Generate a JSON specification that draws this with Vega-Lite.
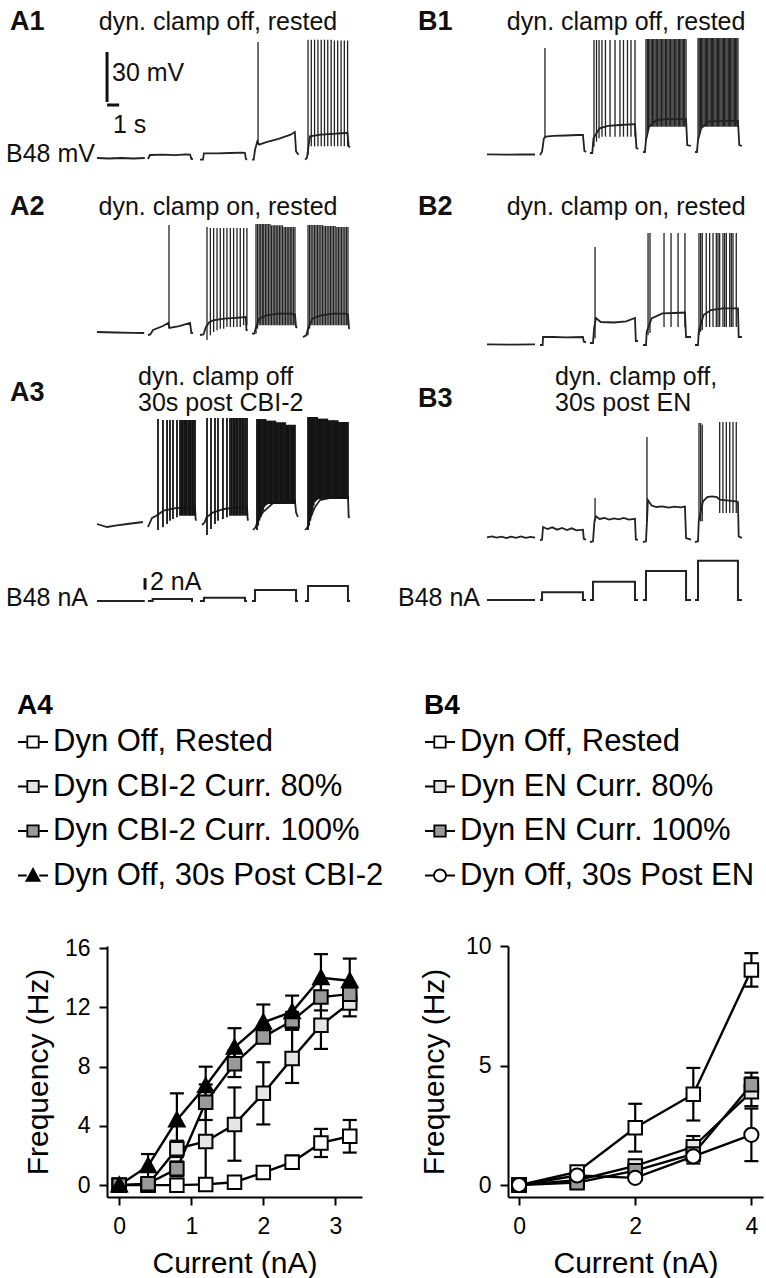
{
"$schema":"https://vega.github.io/schema/vega-lite/v6.json",
"padding":0,
"background":"white",
"columns":2,
"spacing":0,
"bounds":"flush",
"config":{
 "view":{"stroke":null},
 "font":"Liberation Sans",
 "axis":{"grid":false,"domainColor":"black","domainWidth":2,"tickColor":"black","tickWidth":2,"tickSize":8,"labelFontSize":23,"labelColor":"black","titleFontSize":30,"titleFontWeight":"normal","titleColor":"black","labelFlush":false},
 "legend":{"orient":"none","direction":"vertical","titleFontSize":28,"titleFontWeight":"bold","titleColor":"black","titlePadding":6,"labelFontSize":31,"labelColor":"black","labelLimit":600,"labelOffset":4,"rowPadding":13.5,"symbolSize":900,"symbolStrokeWidth":1.8,"symbolStrokeColor":"black","symbolOpacity":1,"padding":0}
},
"resolve":{"scale":{"x":"independent","y":"independent","fill":"independent","shape":"independent","stroke":"independent"},"legend":{"fill":"independent","shape":"independent","stroke":"independent"}},
"datasets":{
 "labels":[
  {"p":"A1","k":"b","t":-7.19,"v":21.6,"txt":"A1"},
  {"p":"A1","k":"c","t":10.0,"v":21.6,"txt":"dyn. clamp off, rested"},
  {"p":"A1","k":"l","t":1.24,"v":-9.0,"txt":"30 mV"},
  {"p":"A1","k":"l","t":1.32,"v":-40.2,"txt":"1 s"},
  {"p":"A1","k":"r","t":-0.17,"v":-57.3,"txt":"B48 mV"},
  {"p":"B1","k":"b","t":-5.7,"v":19.8,"txt":"B1"},
  {"p":"B1","k":"c","t":11.5,"v":19.8,"txt":"dyn. clamp off, rested"},
  {"p":"A2","k":"b","t":-7.19,"v":15.0,"txt":"A2"},
  {"p":"A2","k":"c","t":10.0,"v":15.0,"txt":"dyn. clamp on, rested"},
  {"p":"B2","k":"b","t":-5.7,"v":22.8,"txt":"B2"},
  {"p":"B2","k":"c","t":11.5,"v":22.8,"txt":"dyn. clamp on, rested"},
  {"p":"A3","k":"b","t":-7.19,"v":18.6,"txt":"A3"},
  {"p":"A3","k":"l","t":3.39,"v":28.2,"txt":"dyn. clamp off"},
  {"p":"A3","k":"l","t":3.39,"v":12.6,"txt":"30s post CBI-2"},
  {"p":"B3","k":"b","t":-5.7,"v":23.4,"txt":"B3"},
  {"p":"B3","k":"l","t":5.62,"v":36.6,"txt":"dyn. clamp off,"},
  {"p":"B3","k":"l","t":5.62,"v":21.0,"txt":"30s post EN"},
  {"p":"AC","k":"r","t":-0.74,"v":0.5,"txt":"B48 nA"},
  {"p":"AC","k":"l","t":4.38,"v":3.28,"txt":"2 nA"},
  {"p":"BC","k":"r","t":-0.58,"v":0.2,"txt":"B48 nA"}
 ],
 "bars":[
  {"p":"A1","t":0.83,"t2":0.83,"v":-26.4,"v2":3.6},
  {"p":"A1","t":0.83,"t2":1.83,"v":-28.2,"v2":-28.2},
  {"p":"AC","t":3.97,"t2":3.97,"v":1.95,"v2":3.95}
 ],
 "A1v":[
  {"s":1,"t":0,"v":-60},{"s":1,"t":1,"v":-60.3},{"s":1,"t":2,"v":-60},{"s":1,"t":3,"v":-60.3},{"s":1,"t":3.95,"v":-60},
  {"s":2,"t":4.21,"v":-60.6},{"s":2,"t":4.38,"v":-58.2},{"s":2,"t":5.5,"v":-58},{"s":2,"t":6.5,"v":-58.3},{"s":2,"t":7.3,"v":-57.8},{"s":2,"t":7.69,"v":-58},{"s":2,"t":7.8,"v":-60.5},{"s":2,"t":7.93,"v":-60.6},
  {"s":3,"t":8.51,"v":-61},{"s":3,"t":8.75,"v":-61},{"s":3,"t":8.84,"v":-57.2},{"s":3,"t":10,"v":-57.2},{"s":3,"t":11,"v":-57},{"s":3,"t":12,"v":-56.8},{"s":3,"t":12.23,"v":-57},{"s":3,"t":12.3,"v":-60.5},{"s":3,"t":12.4,"v":-61},
  {"s":4,"t":12.81,"v":-61},{"s":4,"t":12.95,"v":-61},{"s":4,"t":13.06,"v":-55},{"s":4,"t":13.25,"v":-50},{"s":4,"t":13.4,"v":-52},{"s":4,"t":14,"v":-50.5},{"s":4,"t":15,"v":-48.5},{"s":4,"t":16,"v":-46},{"s":4,"t":16.35,"v":-44.4},{"s":4,"t":16.45,"v":-56},{"s":4,"t":16.65,"v":-58},
  {"s":5,"t":17.19,"v":-61},{"s":5,"t":17.35,"v":-60},{"s":5,"t":17.44,"v":-55},{"s":5,"t":17.6,"v":-47},{"s":5,"t":18.5,"v":-46},{"s":5,"t":19.5,"v":-45.5},{"s":5,"t":20.5,"v":-45},{"s":5,"t":20.7,"v":-45},{"s":5,"t":20.8,"v":-53},{"s":5,"t":20.91,"v":-53.5}
 ],
 "A1s":[
  {"t":13.31,"v":-52,"v2":9.6},
  {"t":17.44,"v":-58,"v2":11},{"t":17.71,"v":-53,"v2":11},{"t":17.98,"v":-53,"v2":11},{"t":18.26,"v":-53,"v2":11},{"t":18.53,"v":-53,"v2":11},{"t":18.8,"v":-53,"v2":11},{"t":19.07,"v":-53,"v2":11},{"t":19.35,"v":-53,"v2":11},{"t":19.62,"v":-53,"v2":10.5},{"t":19.89,"v":-53,"v2":10.5},{"t":20.17,"v":-53,"v2":10.5},{"t":20.44,"v":-53,"v2":10.5},{"t":20.71,"v":-53,"v2":10.5}
 ],
 "A2v":[
  {"s":1,"t":0,"v":-60},{"s":1,"t":1.5,"v":-60.3},{"s":1,"t":3,"v":-60.5},{"s":1,"t":3.9,"v":-60.6},
  {"s":2,"t":4.21,"v":-61.8},{"s":2,"t":4.4,"v":-61.5},{"s":2,"t":4.63,"v":-58.8},{"s":2,"t":5.45,"v":-56.4},{"s":2,"t":5.9,"v":-54.5},{"s":2,"t":5.98,"v":-57.6},{"s":2,"t":6.8,"v":-56.5},{"s":2,"t":7.69,"v":-54.6},{"s":2,"t":7.8,"v":-60.6},{"s":2,"t":7.93,"v":-60.6},
  {"s":3,"t":8.51,"v":-61.8},{"s":3,"t":8.8,"v":-61.5},{"s":3,"t":9.0,"v":-57},{"s":3,"t":9.3,"v":-54},{"s":3,"t":9.6,"v":-53},{"s":3,"t":10.5,"v":-52},{"s":3,"t":11.5,"v":-51.5},{"s":3,"t":12.3,"v":-51},{"s":3,"t":12.35,"v":-58.8},{"s":3,"t":12.45,"v":-59},
  {"s":4,"t":12.81,"v":-61},{"s":4,"t":13.0,"v":-61},{"s":4,"t":13.1,"v":-58},{"s":4,"t":13.4,"v":-52},{"s":4,"t":14,"v":-50},{"s":4,"t":15,"v":-49},{"s":4,"t":16,"v":-49},{"s":4,"t":16.36,"v":-49.5},{"s":4,"t":16.45,"v":-57},{"s":4,"t":16.55,"v":-57.5},
  {"s":5,"t":17.02,"v":-63},{"s":5,"t":17.3,"v":-62},{"s":5,"t":17.44,"v":-58},{"s":5,"t":17.8,"v":-52},{"s":5,"t":18.5,"v":-50},{"s":5,"t":19.5,"v":-49},{"s":5,"t":20.5,"v":-49},{"s":5,"t":20.74,"v":-49.5},{"s":5,"t":20.82,"v":-57.6},{"s":5,"t":20.9,"v":-58}
 ],
 "A2s":[
  {"t":5.95,"v":-57.6,"v2":4.2},
  {"t":9.09,"v":-64.8,"v2":3},{"t":9.37,"v":-62,"v2":2.4},{"t":9.64,"v":-60,"v2":2.4},{"t":9.92,"v":-59,"v2":2.4},{"t":10.19,"v":-58,"v2":2.4},{"t":10.47,"v":-58,"v2":2.4},{"t":10.74,"v":-57,"v2":2.4},{"t":11.02,"v":-57,"v2":2.4},{"t":11.29,"v":-57,"v2":2.4},{"t":11.57,"v":-57,"v2":2.4},{"t":11.84,"v":-57,"v2":2.4},{"t":12.12,"v":-56,"v2":2.4},{"t":12.39,"v":-56,"v2":2.4},
  {"t":13.14,"v":-61,"v2":4.8},{"t":13.27,"v":-58,"v2":4.8},{"t":13.4,"v":-56,"v2":4.8},{"t":13.53,"v":-56,"v2":4.8},{"t":13.66,"v":-56,"v2":4.8},{"t":13.78,"v":-56,"v2":4.8},{"t":13.91,"v":-56,"v2":4.8},{"t":14.04,"v":-56,"v2":4.8},{"t":14.17,"v":-56,"v2":4.8},{"t":14.3,"v":-56,"v2":4.8},{"t":14.43,"v":-56,"v2":4},{"t":14.56,"v":-56,"v2":4},{"t":14.69,"v":-56,"v2":4},{"t":14.81,"v":-56,"v2":4},{"t":14.94,"v":-56,"v2":4},{"t":15.07,"v":-56,"v2":4},{"t":15.2,"v":-56,"v2":4},{"t":15.33,"v":-56,"v2":4},{"t":15.46,"v":-56,"v2":3},{"t":15.59,"v":-56,"v2":3},{"t":15.72,"v":-56,"v2":3},{"t":15.85,"v":-56,"v2":3},{"t":15.97,"v":-56,"v2":3},{"t":16.1,"v":-56,"v2":3},{"t":16.23,"v":-56,"v2":3},{"t":16.36,"v":-56,"v2":3},
  {"t":17.44,"v":-62,"v2":4.2},{"t":17.57,"v":-58,"v2":4.2},{"t":17.7,"v":-56,"v2":4.2},{"t":17.84,"v":-56,"v2":4.2},{"t":17.97,"v":-56,"v2":4.2},{"t":18.1,"v":-56,"v2":4.2},{"t":18.23,"v":-56,"v2":4.2},{"t":18.36,"v":-56,"v2":4.2},{"t":18.5,"v":-56,"v2":4.2},{"t":18.63,"v":-56,"v2":4.2},{"t":18.76,"v":-56,"v2":3.6},{"t":18.89,"v":-56,"v2":3.6},{"t":19.02,"v":-56,"v2":3.6},{"t":19.16,"v":-56,"v2":3.6},{"t":19.29,"v":-56,"v2":3.6},{"t":19.42,"v":-56,"v2":3.6},{"t":19.55,"v":-56,"v2":3.6},{"t":19.68,"v":-56,"v2":3.6},{"t":19.82,"v":-56,"v2":3},{"t":19.95,"v":-56,"v2":3},{"t":20.08,"v":-56,"v2":3},{"t":20.21,"v":-56,"v2":3},{"t":20.34,"v":-56,"v2":3},{"t":20.48,"v":-56,"v2":3},{"t":20.61,"v":-56,"v2":3},{"t":20.74,"v":-56,"v2":3}
 ],
 "A3v":[
  {"s":1,"t":0,"v":-60},{"s":1,"t":0.83,"v":-61.8},{"s":1,"t":1.5,"v":-61},{"s":1,"t":2.5,"v":-60},{"s":1,"t":3.8,"v":-58.8},
  {"s":2,"t":4.21,"v":-61.8},{"s":2,"t":4.55,"v":-56.4},{"s":2,"t":4.9,"v":-55},{"s":2,"t":5.5,"v":-52},{"s":2,"t":6.5,"v":-50.5},{"s":2,"t":7.5,"v":-50},{"s":2,"t":8.1,"v":-50},{"s":2,"t":8.15,"v":-57},{"s":2,"t":8.2,"v":-58},
  {"s":3,"t":8.68,"v":-60.6},{"s":3,"t":8.9,"v":-59},{"s":3,"t":9.05,"v":-56},{"s":3,"t":9.6,"v":-53},{"s":3,"t":10.5,"v":-51},{"s":3,"t":11.5,"v":-50},{"s":3,"t":12.4,"v":-50},{"s":3,"t":12.45,"v":-57},{"s":3,"t":12.5,"v":-58},
  {"s":4,"t":12.89,"v":-63.6},{"s":4,"t":13.1,"v":-62},{"s":4,"t":13.3,"v":-58},{"s":4,"t":13.7,"v":-53},{"s":4,"t":14.55,"v":-47.4},{"s":4,"t":15.5,"v":-46.5},{"s":4,"t":16.36,"v":-46},{"s":4,"t":16.45,"v":-53},{"s":4,"t":16.6,"v":-55.8},
  {"s":5,"t":17.19,"v":-63.6},{"s":5,"t":17.4,"v":-62},{"s":5,"t":17.6,"v":-57},{"s":5,"t":18.0,"v":-50},{"s":5,"t":18.43,"v":-45.6},{"s":5,"t":19.5,"v":-44},{"s":5,"t":20.74,"v":-43.5},{"s":5,"t":20.8,"v":-55.8},{"s":5,"t":20.9,"v":-56}
 ],
 "A3s":[
  {"t":5.04,"v":-63.6,"v2":3},{"t":5.45,"v":-62,"v2":2.4},{"t":5.79,"v":-60,"v2":2.4},{"t":6.03,"v":-58,"v2":2.4},{"t":6.28,"v":-57,"v2":2.4},{"t":6.61,"v":-56,"v2":2.4},{"t":6.86,"v":-55,"v2":2.4},{"t":6.97,"v":-55,"v2":2.4},{"t":7.09,"v":-55,"v2":2.4},{"t":7.2,"v":-55,"v2":2.4},{"t":7.31,"v":-55,"v2":2.4},{"t":7.42,"v":-55,"v2":2.4},{"t":7.54,"v":-55,"v2":2.4},{"t":7.65,"v":-55,"v2":2.4},{"t":7.76,"v":-55,"v2":2.4},{"t":7.87,"v":-55,"v2":2.4},{"t":7.99,"v":-55,"v2":2.4},{"t":8.1,"v":-55,"v2":2.4},
  {"t":9.09,"v":-66.6,"v2":3.6},{"t":9.42,"v":-63,"v2":3.6},{"t":9.75,"v":-60,"v2":3.6},{"t":10.0,"v":-58,"v2":3.6},{"t":10.41,"v":-57,"v2":3.6},{"t":10.74,"v":-56,"v2":3.6},{"t":10.99,"v":-55,"v2":3.6},{"t":11.12,"v":-55,"v2":3.6},{"t":11.25,"v":-55,"v2":3.6},{"t":11.38,"v":-55,"v2":3.6},{"t":11.5,"v":-55,"v2":3.6},{"t":11.63,"v":-55,"v2":3.6},{"t":11.76,"v":-55,"v2":3.6},{"t":11.89,"v":-55,"v2":3.6},{"t":12.01,"v":-55,"v2":3.6},{"t":12.14,"v":-55,"v2":3.6},{"t":12.27,"v":-55,"v2":3.6},{"t":12.4,"v":-55,"v2":3.6},
  {"t":13.22,"v":-63.6,"v2":3},{"t":13.32,"v":-61,"v2":3},{"t":13.42,"v":-58,"v2":3},{"t":13.52,"v":-56,"v2":3},{"t":13.63,"v":-54,"v2":3},{"t":13.73,"v":-52,"v2":3},{"t":13.83,"v":-50,"v2":3},{"t":13.93,"v":-49,"v2":3},{"t":14.03,"v":-48.5,"v2":2},{"t":14.13,"v":-48,"v2":2},{"t":14.23,"v":-48,"v2":2},{"t":14.33,"v":-48,"v2":2},{"t":14.43,"v":-48,"v2":2},{"t":14.54,"v":-48,"v2":2},{"t":14.64,"v":-48,"v2":2},{"t":14.74,"v":-48,"v2":2},{"t":14.84,"v":-48,"v2":1},{"t":14.94,"v":-48,"v2":1},{"t":15.04,"v":-48,"v2":1},{"t":15.14,"v":-48,"v2":1},{"t":15.24,"v":-48,"v2":1},{"t":15.35,"v":-48,"v2":1},{"t":15.45,"v":-48,"v2":1},{"t":15.55,"v":-48,"v2":1},{"t":15.65,"v":-48,"v2":-0.5},{"t":15.75,"v":-48,"v2":-0.5},{"t":15.85,"v":-48,"v2":-0.5},{"t":15.95,"v":-48,"v2":-0.5},{"t":16.06,"v":-48,"v2":-0.5},{"t":16.16,"v":-48,"v2":-0.5},{"t":16.26,"v":-48,"v2":-0.5},{"t":16.36,"v":-48,"v2":-0.5},
  {"t":17.44,"v":-63.6,"v2":4.2},{"t":17.53,"v":-61,"v2":4.2},{"t":17.63,"v":-58,"v2":4.2},{"t":17.72,"v":-55,"v2":4.2},{"t":17.82,"v":-52,"v2":4.2},{"t":17.91,"v":-49,"v2":4.2},{"t":18.01,"v":-47,"v2":4.2},{"t":18.1,"v":-46,"v2":4.2},{"t":18.19,"v":-45.6,"v2":4.2},{"t":18.29,"v":-45,"v2":3.2},{"t":18.38,"v":-45,"v2":3.2},{"t":18.48,"v":-45,"v2":3.2},{"t":18.57,"v":-45,"v2":3.2},{"t":18.67,"v":-45,"v2":3.2},{"t":18.76,"v":-45,"v2":3.2},{"t":18.85,"v":-45,"v2":3.2},{"t":18.95,"v":-45,"v2":3.2},{"t":19.04,"v":-45,"v2":3.2},{"t":19.14,"v":-45,"v2":2.2},{"t":19.23,"v":-45,"v2":2.2},{"t":19.33,"v":-45,"v2":2.2},{"t":19.42,"v":-45,"v2":2.2},{"t":19.51,"v":-45,"v2":2.2},{"t":19.61,"v":-45,"v2":2.2},{"t":19.7,"v":-45,"v2":2.2},{"t":19.8,"v":-45,"v2":2.2},{"t":19.89,"v":-45,"v2":2.2},{"t":19.99,"v":-45,"v2":1.2},{"t":20.08,"v":-45,"v2":1.2},{"t":20.17,"v":-45,"v2":1.2},{"t":20.27,"v":-45,"v2":1.2},{"t":20.36,"v":-45,"v2":1.2},{"t":20.46,"v":-45,"v2":1.2},{"t":20.55,"v":-45,"v2":1.2},{"t":20.65,"v":-45,"v2":1.2},{"t":20.74,"v":-45,"v2":1.2}
 ],
 "B1v":[
  {"s":1,"t":0,"v":-59.6},{"s":1,"t":1.5,"v":-59.8},{"s":1,"t":3,"v":-59.6},{"s":1,"t":3.97,"v":-59.7},
  {"s":2,"t":4.38,"v":-60},{"s":2,"t":4.55,"v":-58},{"s":2,"t":4.7,"v":-50},{"s":2,"t":4.85,"v":-49},{"s":2,"t":5.5,"v":-48.5},{"s":2,"t":6.5,"v":-48.3},{"s":2,"t":7.5,"v":-48},{"s":2,"t":7.93,"v":-48},{"s":2,"t":8.05,"v":-57.6},{"s":2,"t":8.2,"v":-58.2},
  {"s":3,"t":8.51,"v":-58.8},{"s":3,"t":8.7,"v":-58.8},{"s":3,"t":8.8,"v":-50},{"s":3,"t":9.3,"v":-44},{"s":3,"t":10,"v":-42.5},{"s":3,"t":11,"v":-42},{"s":3,"t":12.23,"v":-41.5},{"s":3,"t":12.35,"v":-55.8},{"s":3,"t":12.5,"v":-56.4},
  {"s":4,"t":12.89,"v":-58.2},{"s":4,"t":13.05,"v":-58.2},{"s":4,"t":13.14,"v":-51},{"s":4,"t":13.4,"v":-43},{"s":4,"t":14,"v":-39},{"s":4,"t":15,"v":-38.5},{"s":4,"t":16.45,"v":-38.5},{"s":4,"t":16.55,"v":-54},{"s":4,"t":16.86,"v":-54.6},
  {"s":5,"t":17.19,"v":-58.2},{"s":5,"t":17.35,"v":-58.2},{"s":5,"t":17.44,"v":-51},{"s":5,"t":17.7,"v":-44},{"s":5,"t":18.3,"v":-40},{"s":5,"t":19.5,"v":-39.5},{"s":5,"t":20.74,"v":-39.5},{"s":5,"t":20.85,"v":-54},{"s":5,"t":21.07,"v":-54.6}
 ],
 "B1s":[
  {"t":4.79,"v":-50,"v2":4.2},
  {"t":8.84,"v":-55,"v2":9},{"t":9.05,"v":-52,"v2":9},{"t":9.26,"v":-50,"v2":9},{"t":9.5,"v":-49,"v2":9},{"t":9.79,"v":-49,"v2":9},{"t":10.17,"v":-49,"v2":9},{"t":10.58,"v":-49,"v2":9},{"t":10.99,"v":-49,"v2":9},{"t":11.28,"v":-49,"v2":9},{"t":11.61,"v":-49,"v2":9},{"t":11.9,"v":-49,"v2":9},{"t":12.23,"v":-49,"v2":9},
  {"t":13.14,"v":-51,"v2":9.6},{"t":13.25,"v":-47,"v2":9.6},{"t":13.35,"v":-44,"v2":9.6},{"t":13.46,"v":-43,"v2":9.6},{"t":13.57,"v":-43,"v2":9.6},{"t":13.67,"v":-43,"v2":9.6},{"t":13.78,"v":-43,"v2":9.6},{"t":13.89,"v":-43,"v2":9.6},{"t":13.99,"v":-43,"v2":9.6},{"t":14.1,"v":-43,"v2":9.6},{"t":14.21,"v":-43,"v2":9.6},{"t":14.31,"v":-43,"v2":9.6},{"t":14.42,"v":-43,"v2":9.6},{"t":14.53,"v":-43,"v2":9.6},{"t":14.63,"v":-43,"v2":9.6},{"t":14.74,"v":-43,"v2":9.6},{"t":14.85,"v":-43,"v2":9.6},{"t":14.96,"v":-43,"v2":9.6},{"t":15.06,"v":-43,"v2":9.6},{"t":15.17,"v":-43,"v2":9.6},{"t":15.28,"v":-43,"v2":9.6},{"t":15.38,"v":-43,"v2":9.6},{"t":15.49,"v":-43,"v2":9.6},{"t":15.6,"v":-43,"v2":9.6},{"t":15.7,"v":-43,"v2":9.6},{"t":15.81,"v":-43,"v2":9.6},{"t":15.92,"v":-43,"v2":9.6},{"t":16.02,"v":-43,"v2":9.6},{"t":16.13,"v":-43,"v2":9.6},{"t":16.24,"v":-43,"v2":9.6},{"t":16.34,"v":-43,"v2":9.6},{"t":16.45,"v":-43,"v2":9.6},
  {"t":17.44,"v":-51,"v2":10.2},{"t":17.54,"v":-47,"v2":10.2},{"t":17.64,"v":-44,"v2":10.2},{"t":17.74,"v":-43,"v2":10.2},{"t":17.84,"v":-43,"v2":10.2},{"t":17.94,"v":-43,"v2":10.2},{"t":18.04,"v":-43,"v2":10.2},{"t":18.14,"v":-43,"v2":10.2},{"t":18.24,"v":-43,"v2":10.2},{"t":18.34,"v":-43,"v2":10.2},{"t":18.44,"v":-43,"v2":10.2},{"t":18.54,"v":-43,"v2":10.2},{"t":18.64,"v":-43,"v2":10.2},{"t":18.74,"v":-43,"v2":10.2},{"t":18.84,"v":-43,"v2":10.2},{"t":18.94,"v":-43,"v2":10.2},{"t":19.04,"v":-43,"v2":10.2},{"t":19.14,"v":-43,"v2":10.2},{"t":19.24,"v":-43,"v2":10.2},{"t":19.34,"v":-43,"v2":10.2},{"t":19.44,"v":-43,"v2":10.2},{"t":19.54,"v":-43,"v2":10.2},{"t":19.64,"v":-43,"v2":10.2},{"t":19.74,"v":-43,"v2":10.2},{"t":19.84,"v":-43,"v2":10.2},{"t":19.94,"v":-43,"v2":10.2},{"t":20.04,"v":-43,"v2":10.2},{"t":20.14,"v":-43,"v2":10.2},{"t":20.24,"v":-43,"v2":10.2},{"t":20.34,"v":-43,"v2":10.2},{"t":20.44,"v":-43,"v2":10.2},{"t":20.54,"v":-43,"v2":10.2},{"t":20.64,"v":-43,"v2":10.2},{"t":20.74,"v":-43,"v2":10.2}
 ],
 "B2v":[
  {"s":1,"t":0,"v":-59.6},{"s":1,"t":2,"v":-59.8},{"s":1,"t":3.97,"v":-59.6},
  {"s":2,"t":4.38,"v":-60},{"s":2,"t":4.6,"v":-60},{"s":2,"t":4.63,"v":-55.2},{"s":2,"t":5.5,"v":-55.2},{"s":2,"t":6.5,"v":-55.4},{"s":2,"t":7.93,"v":-55.2},{"s":2,"t":8.0,"v":-58},{"s":2,"t":8.18,"v":-58.2},
  {"s":3,"t":8.51,"v":-58.8},{"s":3,"t":8.76,"v":-58.8},{"s":3,"t":8.85,"v":-50},{"s":3,"t":9.0,"v":-43.8},{"s":3,"t":9.4,"v":-46.2},{"s":3,"t":10.5,"v":-46.5},{"s":3,"t":11.5,"v":-45.8},{"s":3,"t":12.23,"v":-43.8},{"s":3,"t":12.3,"v":-57.6},{"s":3,"t":12.48,"v":-57.6},
  {"s":4,"t":12.89,"v":-60},{"s":4,"t":13.14,"v":-60},{"s":4,"t":13.2,"v":-52},{"s":4,"t":13.6,"v":-44},{"s":4,"t":14.5,"v":-41},{"s":4,"t":15.5,"v":-40.8},{"s":4,"t":16.36,"v":-40.5},{"s":4,"t":16.45,"v":-55.2},{"s":4,"t":16.86,"v":-55.2},
  {"s":5,"t":17.19,"v":-60},{"s":5,"t":17.44,"v":-60},{"s":5,"t":17.5,"v":-52},{"s":5,"t":17.9,"v":-42},{"s":5,"t":18.5,"v":-39},{"s":5,"t":19.5,"v":-38},{"s":5,"t":20.74,"v":-38},{"s":5,"t":20.8,"v":-55.2},{"s":5,"t":21.07,"v":-55.2}
 ],
 "B2s":[
  {"t":8.93,"v":-56,"v2":-1.2},
  {"t":13.31,"v":-54,"v2":7.2},{"t":13.47,"v":-52.8,"v2":7.2},{"t":14.63,"v":-49.2,"v2":7.2},{"t":15.21,"v":-49.2,"v2":7.2},{"t":15.79,"v":-49.2,"v2":7.2},{"t":16.36,"v":-49.2,"v2":7.2},
  {"t":17.52,"v":-54,"v2":7.2},{"t":17.66,"v":-52,"v2":7.2},{"t":17.79,"v":-51,"v2":7.2},{"t":18.12,"v":-49.2,"v2":7.2},{"t":18.4,"v":-49.2,"v2":7.2},{"t":18.68,"v":-49.2,"v2":7.2},{"t":18.95,"v":-49.2,"v2":7.2},{"t":19.09,"v":-49.2,"v2":7.2},{"t":19.23,"v":-49.2,"v2":7.2},{"t":19.5,"v":-49.2,"v2":7.2},{"t":19.64,"v":-49.2,"v2":7.2},{"t":19.78,"v":-49.2,"v2":7.2},{"t":20.06,"v":-49.2,"v2":7.2},{"t":20.19,"v":-49.2,"v2":7.2},{"t":20.33,"v":-49.2,"v2":7.2},{"t":20.6,"v":-49.2,"v2":7.2}
 ],
 "B3v":[
  {"s":1,"t":0,"v":-59.6},{"s":1,"t":0.4,"v":-59},{"s":1,"t":0.8,"v":-59.8},{"s":1,"t":1.2,"v":-59.2},{"s":1,"t":1.6,"v":-60},{"s":1,"t":2.0,"v":-59.2},{"s":1,"t":2.4,"v":-59.9},{"s":1,"t":2.8,"v":-59.1},{"s":1,"t":3.2,"v":-59.9},{"s":1,"t":3.6,"v":-59.3},{"s":1,"t":3.97,"v":-59.8},
  {"s":2,"t":4.38,"v":-61.2},{"s":2,"t":4.55,"v":-61},{"s":2,"t":4.63,"v":-53.4},{"s":2,"t":5.0,"v":-54.6},{"s":2,"t":5.4,"v":-53.6},{"s":2,"t":5.8,"v":-55},{"s":2,"t":6.2,"v":-54},{"s":2,"t":6.6,"v":-55.2},{"s":2,"t":7.0,"v":-54.2},{"s":2,"t":7.4,"v":-55.4},{"s":2,"t":7.93,"v":-55},{"s":2,"t":8.0,"v":-60.5},{"s":2,"t":8.18,"v":-61},
  {"s":3,"t":8.51,"v":-62.4},{"s":3,"t":8.76,"v":-62},{"s":3,"t":8.88,"v":-50},{"s":3,"t":9.0,"v":-47},{"s":3,"t":9.3,"v":-48.6},{"s":3,"t":9.7,"v":-48},{"s":3,"t":10.1,"v":-49},{"s":3,"t":10.5,"v":-48.2},{"s":3,"t":10.9,"v":-48.8},{"s":3,"t":11.3,"v":-48},{"s":3,"t":11.7,"v":-49},{"s":3,"t":12.23,"v":-48.5},{"s":3,"t":12.3,"v":-61},{"s":3,"t":12.48,"v":-61},
  {"s":4,"t":12.89,"v":-62.4},{"s":4,"t":13.14,"v":-62},{"s":4,"t":13.22,"v":-50},{"s":4,"t":13.3,"v":-37.2},{"s":4,"t":13.6,"v":-40.5},{"s":4,"t":14.0,"v":-41.4},{"s":4,"t":14.5,"v":-41},{"s":4,"t":15,"v":-41.8},{"s":4,"t":15.5,"v":-41.2},{"s":4,"t":16.0,"v":-41.6},{"s":4,"t":16.36,"v":-41.2},{"s":4,"t":16.45,"v":-60},{"s":4,"t":16.86,"v":-61},
  {"s":5,"t":17.19,"v":-62.4},{"s":5,"t":17.44,"v":-62},{"s":5,"t":17.5,"v":-50},{"s":5,"t":17.85,"v":-38},{"s":5,"t":18.2,"v":-35.4},{"s":5,"t":18.6,"v":-35},{"s":5,"t":19.0,"v":-35.4},{"s":5,"t":19.23,"v":-37},{"s":5,"t":20.6,"v":-38},{"s":5,"t":20.74,"v":-38.5},{"s":5,"t":20.8,"v":-59},{"s":5,"t":21.07,"v":-60}
 ],
 "B3s":[
  {"t":8.93,"v":-50,"v2":-36},
  {"t":13.22,"v":-50,"v2":0.6},
  {"t":17.52,"v":-49,"v2":9},{"t":17.66,"v":-50,"v2":9},{"t":17.79,"v":-50,"v2":8},
  {"t":19.23,"v":-45,"v2":9.6},{"t":19.5,"v":-45,"v2":9.6},{"t":19.78,"v":-45,"v2":9.6},{"t":20.06,"v":-45,"v2":9.6},{"t":20.33,"v":-45,"v2":9.6},{"t":20.6,"v":-45,"v2":9.6}
 ],
 "ACv":[
  {"s":1,"t":0,"v":0},{"s":1,"t":3.95,"v":0},
  {"s":2,"t":4.21,"v":0},{"s":2,"t":4.6,"v":0},{"s":2,"t":4.6,"v":0.35},{"s":2,"t":7.85,"v":0.35},{"s":2,"t":7.85,"v":0},{"s":2,"t":7.93,"v":0},
  {"s":3,"t":8.51,"v":0},{"s":3,"t":8.84,"v":0},{"s":3,"t":8.84,"v":0.55},{"s":3,"t":12.23,"v":0.55},{"s":3,"t":12.23,"v":0},{"s":3,"t":12.4,"v":0},
  {"s":4,"t":12.81,"v":0},{"s":4,"t":13.06,"v":0},{"s":4,"t":13.06,"v":1.9},{"s":4,"t":16.45,"v":1.9},{"s":4,"t":16.45,"v":0},{"s":4,"t":16.61,"v":0},
  {"s":5,"t":17.19,"v":0},{"s":5,"t":17.44,"v":0},{"s":5,"t":17.44,"v":2.6},{"s":5,"t":20.74,"v":2.6},{"s":5,"t":20.74,"v":0},{"s":5,"t":20.91,"v":0}
 ],
 "BCv":[
  {"s":1,"t":0,"v":0},{"s":1,"t":3.97,"v":0},
  {"s":2,"t":4.38,"v":0},{"s":2,"t":4.55,"v":0},{"s":2,"t":4.55,"v":0.8},{"s":2,"t":7.93,"v":0.8},{"s":2,"t":7.93,"v":0},{"s":2,"t":8.18,"v":0},
  {"s":3,"t":8.51,"v":0},{"s":3,"t":8.76,"v":0},{"s":3,"t":8.76,"v":1.85},{"s":3,"t":12.23,"v":1.85},{"s":3,"t":12.23,"v":0},{"s":3,"t":12.48,"v":0},
  {"s":4,"t":12.89,"v":0},{"s":4,"t":13.14,"v":0},{"s":4,"t":13.14,"v":2.95},{"s":4,"t":16.45,"v":2.95},{"s":4,"t":16.45,"v":0},{"s":4,"t":16.86,"v":0},
  {"s":5,"t":17.19,"v":0},{"s":5,"t":17.44,"v":0},{"s":5,"t":17.44,"v":4.0},{"s":5,"t":20.74,"v":4.0},{"s":5,"t":20.74,"v":0},{"s":5,"t":21.07,"v":0}
 ],
 "A4":[
  {"g":"Dyn Off, Rested","x":0,"f":0,"lo":null,"hi":null},{"g":"Dyn Off, Rested","x":0.4,"f":0,"lo":null,"hi":null},{"g":"Dyn Off, Rested","x":0.8,"f":0,"lo":null,"hi":null},{"g":"Dyn Off, Rested","x":1.2,"f":0.05,"lo":null,"hi":null},{"g":"Dyn Off, Rested","x":1.6,"f":0.2,"lo":null,"hi":null},{"g":"Dyn Off, Rested","x":2.0,"f":0.85,"lo":0.6,"hi":1.1},{"g":"Dyn Off, Rested","x":2.4,"f":1.55,"lo":1.1,"hi":2.0},{"g":"Dyn Off, Rested","x":2.8,"f":2.85,"lo":1.9,"hi":3.8},{"g":"Dyn Off, Rested","x":3.2,"f":3.3,"lo":2.2,"hi":4.4},
  {"g":"Dyn CBI-2 Curr. 80%","x":0,"f":0,"lo":null,"hi":null},{"g":"Dyn CBI-2 Curr. 80%","x":0.4,"f":0.05,"lo":null,"hi":null},{"g":"Dyn CBI-2 Curr. 80%","x":0.8,"f":2.45,"lo":1.9,"hi":3.0},{"g":"Dyn CBI-2 Curr. 80%","x":1.2,"f":2.95,"lo":0.05,"hi":5.85},{"g":"Dyn CBI-2 Curr. 80%","x":1.6,"f":4.1,"lo":1.65,"hi":6.6},{"g":"Dyn CBI-2 Curr. 80%","x":2.0,"f":6.2,"lo":4.1,"hi":8.3},{"g":"Dyn CBI-2 Curr. 80%","x":2.4,"f":8.55,"lo":6.9,"hi":10.5},{"g":"Dyn CBI-2 Curr. 80%","x":2.8,"f":10.8,"lo":9.2,"hi":12.4},{"g":"Dyn CBI-2 Curr. 80%","x":3.2,"f":12.3,"lo":11.4,"hi":13.2},
  {"g":"Dyn CBI-2 Curr. 100%","x":0,"f":0,"lo":null,"hi":null},{"g":"Dyn CBI-2 Curr. 100%","x":0.4,"f":0.1,"lo":null,"hi":null},{"g":"Dyn CBI-2 Curr. 100%","x":0.8,"f":1.1,"lo":0.6,"hi":1.6},{"g":"Dyn CBI-2 Curr. 100%","x":1.2,"f":5.6,"lo":4.4,"hi":6.8},{"g":"Dyn CBI-2 Curr. 100%","x":1.6,"f":8.2,"lo":7.3,"hi":9.1},{"g":"Dyn CBI-2 Curr. 100%","x":2.0,"f":10.0,"lo":9.6,"hi":10.4},{"g":"Dyn CBI-2 Curr. 100%","x":2.4,"f":11.1,"lo":10.5,"hi":11.7},{"g":"Dyn CBI-2 Curr. 100%","x":2.8,"f":12.7,"lo":11.8,"hi":13.6},{"g":"Dyn CBI-2 Curr. 100%","x":3.2,"f":12.9,"lo":12.3,"hi":13.5},
  {"g":"Dyn Off, 30s Post CBI-2","x":0,"f":0,"lo":null,"hi":null},{"g":"Dyn Off, 30s Post CBI-2","x":0.4,"f":1.3,"lo":0.5,"hi":2.1},{"g":"Dyn Off, 30s Post CBI-2","x":0.8,"f":4.4,"lo":2.6,"hi":6.2},{"g":"Dyn Off, 30s Post CBI-2","x":1.2,"f":6.7,"lo":5.4,"hi":8.0},{"g":"Dyn Off, 30s Post CBI-2","x":1.6,"f":9.3,"lo":8.0,"hi":10.6},{"g":"Dyn Off, 30s Post CBI-2","x":2.0,"f":11.0,"lo":9.8,"hi":12.2},{"g":"Dyn Off, 30s Post CBI-2","x":2.4,"f":11.7,"lo":10.6,"hi":12.8},{"g":"Dyn Off, 30s Post CBI-2","x":2.8,"f":14.0,"lo":12.5,"hi":15.6},{"g":"Dyn Off, 30s Post CBI-2","x":3.2,"f":13.8,"lo":12.4,"hi":15.3}
 ],
 "B4":[
  {"g":"Dyn Off, Rested","x":0,"f":0,"lo":null,"hi":null},{"g":"Dyn Off, Rested","x":1,"f":0.55,"lo":0.35,"hi":0.75},{"g":"Dyn Off, Rested","x":2,"f":2.4,"lo":1.4,"hi":3.4},{"g":"Dyn Off, Rested","x":3,"f":3.8,"lo":2.7,"hi":4.9},{"g":"Dyn Off, Rested","x":4,"f":9.0,"lo":8.3,"hi":9.7},
  {"g":"Dyn EN Curr. 80%","x":0,"f":0,"lo":null,"hi":null},{"g":"Dyn EN Curr. 80%","x":1,"f":0.2,"lo":null,"hi":null},{"g":"Dyn EN Curr. 80%","x":2,"f":0.8,"lo":0.65,"hi":0.95},{"g":"Dyn EN Curr. 80%","x":3,"f":1.6,"lo":1.15,"hi":2.05},{"g":"Dyn EN Curr. 80%","x":4,"f":3.9,"lo":3.3,"hi":4.5},
  {"g":"Dyn EN Curr. 100%","x":0,"f":0,"lo":null,"hi":null},{"g":"Dyn EN Curr. 100%","x":1,"f":0.1,"lo":null,"hi":null},{"g":"Dyn EN Curr. 100%","x":2,"f":0.6,"lo":null,"hi":null},{"g":"Dyn EN Curr. 100%","x":3,"f":1.3,"lo":1.0,"hi":1.6},{"g":"Dyn EN Curr. 100%","x":4,"f":4.2,"lo":3.7,"hi":4.7},
  {"g":"Dyn Off, 30s Post EN","x":0,"f":0,"lo":null,"hi":null},{"g":"Dyn Off, 30s Post EN","x":1,"f":0.4,"lo":null,"hi":null},{"g":"Dyn Off, 30s Post EN","x":2,"f":0.3,"lo":null,"hi":null},{"g":"Dyn Off, 30s Post EN","x":3,"f":1.2,"lo":0.9,"hi":1.5},{"g":"Dyn Off, 30s Post EN","x":4,"f":2.1,"lo":1.0,"hi":3.2}
 ]
},
"concat":[
 {"width":383,"height":180,
  "encoding":{"x":{"field":"t","type":"quantitative","scale":{"domain":[-8.017,23.636],"nice":false,"zero":false},"axis":null},
              "y":{"field":"v","type":"quantitative","scale":{"domain":[-73.2,34.8],"nice":false,"zero":false},"axis":null}},
  "layer":[
   {"data":{"name":"A1v"},"mark":{"type":"line","color":"#222","strokeWidth":1.8},"encoding":{"detail":{"field":"s"},"order":{"value":null}}},
   {"data":{"name":"A1s"},"mark":{"type":"rule","color":"#222","strokeWidth":1.3},"encoding":{"y2":{"field":"v2"}}},
   {"data":{"name":"bars"},"transform":[{"filter":"datum.p==='A1'"}],"mark":{"type":"rule","color":"#111","strokeWidth":3},"encoding":{"x2":{"field":"t2"},"y2":{"field":"v2"}}},
   {"data":{"name":"labels"},"transform":[{"filter":"datum.p==='A1'&&datum.k==='b'"}],"mark":{"type":"text","align":"left","baseline":"middle","fontSize":27,"fontWeight":"bold","color":"#111"},"encoding":{"text":{"field":"txt"}}},
   {"data":{"name":"labels"},"transform":[{"filter":"datum.p==='A1'&&datum.k==='c'"}],"mark":{"type":"text","align":"center","baseline":"middle","fontSize":25,"color":"#111"},"encoding":{"text":{"field":"txt"}}},
   {"data":{"name":"labels"},"transform":[{"filter":"datum.p==='A1'&&datum.k==='l'"}],"mark":{"type":"text","align":"left","baseline":"middle","fontSize":25,"color":"#111"},"encoding":{"text":{"field":"txt"}}},
   {"data":{"name":"labels"},"transform":[{"filter":"datum.p==='A1'&&datum.k==='r'"}],"mark":{"type":"text","align":"right","baseline":"middle","fontSize":25,"color":"#111"},"encoding":{"text":{"field":"txt"}}}
  ]},
 {"width":383,"height":180,
  "encoding":{"x":{"field":"t","type":"quantitative","scale":{"domain":[-8.595,23.058],"nice":false,"zero":false},"axis":null},
              "y":{"field":"v","type":"quantitative","scale":{"domain":[-75.0,33.0],"nice":false,"zero":false},"axis":null}},
  "layer":[
   {"data":{"name":"B1v"},"mark":{"type":"line","color":"#222","strokeWidth":1.8},"encoding":{"detail":{"field":"s"},"order":{"value":null}}},
   {"data":{"name":"B1s"},"mark":{"type":"rule","color":"#222","strokeWidth":1.3},"encoding":{"y2":{"field":"v2"}}},
   {"data":{"name":"labels"},"transform":[{"filter":"datum.p==='B1'&&datum.k==='b'"}],"mark":{"type":"text","align":"left","baseline":"middle","fontSize":27,"fontWeight":"bold","color":"#111"},"encoding":{"text":{"field":"txt"}}},
   {"data":{"name":"labels"},"transform":[{"filter":"datum.p==='B1'&&datum.k==='c'"}],"mark":{"type":"text","align":"center","baseline":"middle","fontSize":25,"color":"#111"},"encoding":{"text":{"field":"txt"}}}
  ]},
 {"width":383,"height":180,
  "encoding":{"x":{"field":"t","type":"quantitative","scale":{"domain":[-8.017,23.636],"nice":false,"zero":false},"axis":null},
              "y":{"field":"v","type":"quantitative","scale":{"domain":[-76.8,31.2],"nice":false,"zero":false},"axis":null}},
  "layer":[
   {"data":{"name":"A2v"},"mark":{"type":"line","color":"#222","strokeWidth":1.8},"encoding":{"detail":{"field":"s"},"order":{"value":null}}},
   {"data":{"name":"A2s"},"mark":{"type":"rule","color":"#222","strokeWidth":1.3},"encoding":{"y2":{"field":"v2"}}},
   {"data":{"name":"labels"},"transform":[{"filter":"datum.p==='A2'&&datum.k==='b'"}],"mark":{"type":"text","align":"left","baseline":"middle","fontSize":27,"fontWeight":"bold","color":"#111"},"encoding":{"text":{"field":"txt"}}},
   {"data":{"name":"labels"},"transform":[{"filter":"datum.p==='A2'&&datum.k==='c'"}],"mark":{"type":"text","align":"center","baseline":"middle","fontSize":25,"color":"#111"},"encoding":{"text":{"field":"txt"}}}
  ]},
 {"width":383,"height":180,
  "encoding":{"x":{"field":"t","type":"quantitative","scale":{"domain":[-8.595,23.058],"nice":false,"zero":false},"axis":null},
              "y":{"field":"v","type":"quantitative","scale":{"domain":[-69.0,39.0],"nice":false,"zero":false},"axis":null}},
  "layer":[
   {"data":{"name":"B2v"},"mark":{"type":"line","color":"#222","strokeWidth":1.8},"encoding":{"detail":{"field":"s"},"order":{"value":null}}},
   {"data":{"name":"B2s"},"mark":{"type":"rule","color":"#222","strokeWidth":1.3},"encoding":{"y2":{"field":"v2"}}},
   {"data":{"name":"labels"},"transform":[{"filter":"datum.p==='B2'&&datum.k==='b'"}],"mark":{"type":"text","align":"left","baseline":"middle","fontSize":27,"fontWeight":"bold","color":"#111"},"encoding":{"text":{"field":"txt"}}},
   {"data":{"name":"labels"},"transform":[{"filter":"datum.p==='B2'&&datum.k==='c'"}],"mark":{"type":"text","align":"center","baseline":"middle","fontSize":25,"color":"#111"},"encoding":{"text":{"field":"txt"}}}
  ]},
 {"width":383,"height":200,
  "encoding":{"x":{"field":"t","type":"quantitative","scale":{"domain":[-8.017,23.636],"nice":false,"zero":false},"axis":null},
              "y":{"field":"v","type":"quantitative","scale":{"domain":[-81.6,38.4],"nice":false,"zero":false},"axis":null}},
  "layer":[
   {"data":{"name":"A3v"},"mark":{"type":"line","color":"#222","strokeWidth":1.8},"encoding":{"detail":{"field":"s"},"order":{"value":null}}},
   {"data":{"name":"A3s"},"mark":{"type":"rule","color":"#141414","strokeWidth":1.8},"encoding":{"y2":{"field":"v2"}}},
   {"data":{"name":"labels"},"transform":[{"filter":"datum.p==='A3'&&datum.k==='b'"}],"mark":{"type":"text","align":"left","baseline":"middle","fontSize":27,"fontWeight":"bold","color":"#111"},"encoding":{"text":{"field":"txt"}}},
   {"data":{"name":"labels"},"transform":[{"filter":"datum.p==='A3'&&datum.k==='l'"}],"mark":{"type":"text","align":"left","baseline":"middle","fontSize":25,"color":"#111"},"encoding":{"text":{"field":"txt"}}}
  ]},
 {"width":383,"height":200,
  "encoding":{"x":{"field":"t","type":"quantitative","scale":{"domain":[-8.595,23.058],"nice":false,"zero":false},"axis":null},
              "y":{"field":"v","type":"quantitative","scale":{"domain":[-73.2,46.8],"nice":false,"zero":false},"axis":null}},
  "layer":[
   {"data":{"name":"B3v"},"mark":{"type":"line","color":"#222","strokeWidth":1.8},"encoding":{"detail":{"field":"s"},"order":{"value":null}}},
   {"data":{"name":"B3s"},"mark":{"type":"rule","color":"#222","strokeWidth":1.3},"encoding":{"y2":{"field":"v2"}}},
   {"data":{"name":"labels"},"transform":[{"filter":"datum.p==='B3'&&datum.k==='b'"}],"mark":{"type":"text","align":"left","baseline":"middle","fontSize":27,"fontWeight":"bold","color":"#111"},"encoding":{"text":{"field":"txt"}}},
   {"data":{"name":"labels"},"transform":[{"filter":"datum.p==='B3'&&datum.k==='l'"}],"mark":{"type":"text","align":"left","baseline":"middle","fontSize":25,"color":"#111"},"encoding":{"text":{"field":"txt"}}}
  ]},
 {"width":383,"height":386,
  "encoding":{"x":{"field":"t","type":"quantitative","scale":{"domain":[-8.017,23.636],"nice":false,"zero":false},"axis":null},
              "y":{"field":"v","type":"quantitative","scale":{"domain":[-59.5,7.07],"nice":false,"zero":false},"axis":null}},
  "layer":[
   {"data":{"name":"ACv"},"mark":{"type":"line","color":"#222","strokeWidth":2},"encoding":{"detail":{"field":"s"},"order":{"value":null}}},
   {"data":{"name":"bars"},"transform":[{"filter":"datum.p==='AC'"}],"mark":{"type":"rule","color":"#111","strokeWidth":3},"encoding":{"x2":{"field":"t2"},"y2":{"field":"v2"}}},
   {"data":{"name":"labels"},"transform":[{"filter":"datum.p==='AC'&&datum.k==='l'"}],"mark":{"type":"text","align":"left","baseline":"middle","fontSize":25,"color":"#111"},"encoding":{"text":{"field":"txt"}}},
   {"data":{"name":"labels"},"transform":[{"filter":"datum.p==='AC'&&datum.k==='r'"}],"mark":{"type":"text","align":"right","baseline":"middle","fontSize":25,"color":"#111"},"encoding":{"text":{"field":"txt"}}}
  ]},
 {"width":383,"height":386,
  "encoding":{"x":{"field":"t","type":"quantitative","scale":{"domain":[-8.595,23.058],"nice":false,"zero":false},"axis":null},
              "y":{"field":"v","type":"quantitative","scale":{"domain":[-35.3,4.08],"nice":false,"zero":false},"axis":null}},
  "layer":[
   {"data":{"name":"BCv"},"mark":{"type":"line","color":"#222","strokeWidth":2},"encoding":{"detail":{"field":"s"},"order":{"value":null}}},
   {"data":{"name":"labels"},"transform":[{"filter":"datum.p==='BC'&&datum.k==='r'"}],"mark":{"type":"text","align":"right","baseline":"middle","fontSize":25,"color":"#111"},"encoding":{"text":{"field":"txt"}}}
  ]},
 {"width":383,"height":251,
  "data":{"name":"A4"},
  "encoding":{
   "x":{"field":"x","type":"quantitative","scale":{"domain":[-0.17,3.37],"range":[107,362],"nice":false,"zero":false},"axis":{"values":[0,1,2,3],"title":"Current (nA)","labelPadding":10,"titlePadding":10}},
   "y":{"field":"f","type":"quantitative","scale":{"domain":[-0.8,16.15],"nice":false,"zero":false},"axis":{"values":[0,4,8,12,16],"title":"Frequency (Hz)","offset":-107,"labelPadding":9,"titlePadding":11}}
  },
  "layer":[
   {"mark":{"type":"line","strokeWidth":2.4},
    "encoding":{"stroke":{"field":"g","type":"nominal","sort":["Dyn Off, Rested","Dyn CBI-2 Curr. 80%","Dyn CBI-2 Curr. 100%","Dyn Off, 30s Post CBI-2"],"scale":{"range":["black","black","black","black"]},
      "legend":{"title":"A4","legendX":17,"legendY":-254,"symbolType":"M-1,0H-0.42M0.42,0H1","symbolStrokeWidth":1.8}}}},
   {"mark":{"type":"rule","color":"black","strokeWidth":2.2},"encoding":{"y":{"field":"lo","type":"quantitative","title":"Frequency (Hz)"},"y2":{"field":"hi"}}},
   {"mark":{"type":"tick","color":"black","orient":"horizontal","size":14,"thickness":2.2,"opacity":1},"encoding":{"y":{"field":"lo","type":"quantitative","title":"Frequency (Hz)"}}},
   {"mark":{"type":"tick","color":"black","orient":"horizontal","size":14,"thickness":2.2,"opacity":1},"encoding":{"y":{"field":"hi","type":"quantitative","title":"Frequency (Hz)"}}},
   {"mark":{"type":"point","filled":true,"stroke":"black","strokeWidth":2,"opacity":1,"size":1262},
    "encoding":{
     "shape":{"field":"g","type":"nominal","title":"A4","scale":{"domain":["Dyn Off, Rested","Dyn CBI-2 Curr. 80%","Dyn CBI-2 Curr. 100%","Dyn Off, 30s Post CBI-2"],"range":["M-0.38,-0.38H0.38V0.38H-0.38Z","M-0.38,-0.38H0.38V0.38H-0.38Z","M-0.38,-0.38H0.38V0.38H-0.38Z","M0,-0.44L0.44,0.36L-0.44,0.36Z"]},
      "legend":{"title":"A4","legendX":17,"legendY":-254,"titleColor":"transparent","labelColor":"transparent","symbolStrokeColor":"black","symbolStrokeWidth":1.8,
       "encode":{"symbols":{"update":{"stroke":{"value":"black"},"strokeWidth":{"value":1.8}}}}}},
     "fill":{"field":"g","type":"nominal","title":"A4","scale":{"domain":["Dyn Off, Rested","Dyn CBI-2 Curr. 80%","Dyn CBI-2 Curr. 100%","Dyn Off, 30s Post CBI-2"],"range":["white","#e6e6e6","#9a9a9a","black"]},
      "legend":{"title":"A4","legendX":17,"legendY":-254,"titleColor":"transparent","labelColor":"transparent","symbolStrokeColor":"black","symbolStrokeWidth":1.8,
       "encode":{"symbols":{"update":{"stroke":{"value":"black"},"strokeWidth":{"value":1.8}}}}}}
    }}
  ]},
 {"width":383,"height":251,
  "data":{"name":"B4"},
  "encoding":{
   "x":{"field":"x","type":"quantitative","scale":{"domain":[-0.19,4.2],"range":[125,380],"nice":false,"zero":false},"axis":{"values":[0,2,4],"title":"Current (nA)","labelPadding":10,"titlePadding":10}},
   "y":{"field":"f","type":"quantitative","scale":{"domain":[-0.5,10.0],"nice":false,"zero":false},"axis":{"values":[0,5,10],"title":"Frequency (Hz)","offset":-125,"labelPadding":9,"titlePadding":16}}
  },
  "layer":[
   {"mark":{"type":"line","strokeWidth":2.4},
    "encoding":{"stroke":{"field":"g","type":"nominal","sort":["Dyn Off, Rested","Dyn EN Curr. 80%","Dyn EN Curr. 100%","Dyn Off, 30s Post EN"],"scale":{"range":["black","black","black","black"]},
      "legend":{"title":"B4","legendX":41,"legendY":-254,"symbolType":"M-1,0H-0.42M0.42,0H1","symbolStrokeWidth":1.8}}}},
   {"mark":{"type":"rule","color":"black","strokeWidth":2.2},"encoding":{"y":{"field":"lo","type":"quantitative","title":"Frequency (Hz)"},"y2":{"field":"hi"}}},
   {"mark":{"type":"tick","color":"black","orient":"horizontal","size":14,"thickness":2.2,"opacity":1},"encoding":{"y":{"field":"lo","type":"quantitative","title":"Frequency (Hz)"}}},
   {"mark":{"type":"tick","color":"black","orient":"horizontal","size":14,"thickness":2.2,"opacity":1},"encoding":{"y":{"field":"hi","type":"quantitative","title":"Frequency (Hz)"}}},
   {"mark":{"type":"point","filled":true,"stroke":"black","strokeWidth":2,"opacity":1,"size":1262},
    "encoding":{
     "shape":{"field":"g","type":"nominal","title":"B4","scale":{"domain":["Dyn Off, Rested","Dyn EN Curr. 80%","Dyn EN Curr. 100%","Dyn Off, 30s Post EN"],"range":["M-0.38,-0.38H0.38V0.38H-0.38Z","M-0.38,-0.38H0.38V0.38H-0.38Z","M-0.38,-0.38H0.38V0.38H-0.38Z","M0.4,0A0.4,0.4,0,1,1,-0.4,0A0.4,0.4,0,1,1,0.4,0Z"]},
      "legend":{"title":"B4","legendX":41,"legendY":-254,"titleColor":"transparent","labelColor":"transparent","symbolStrokeColor":"black","symbolStrokeWidth":1.8,
       "encode":{"symbols":{"update":{"stroke":{"value":"black"},"strokeWidth":{"value":1.8}}}}}},
     "fill":{"field":"g","type":"nominal","title":"B4","scale":{"domain":["Dyn Off, Rested","Dyn EN Curr. 80%","Dyn EN Curr. 100%","Dyn Off, 30s Post EN"],"range":["white","#e6e6e6","#9a9a9a","white"]},
      "legend":{"title":"B4","legendX":41,"legendY":-254,"titleColor":"transparent","labelColor":"transparent","symbolStrokeColor":"black","symbolStrokeWidth":1.8,
       "encode":{"symbols":{"update":{"stroke":{"value":"black"},"strokeWidth":{"value":1.8}}}}}}
    }}
  ]}
]
}
